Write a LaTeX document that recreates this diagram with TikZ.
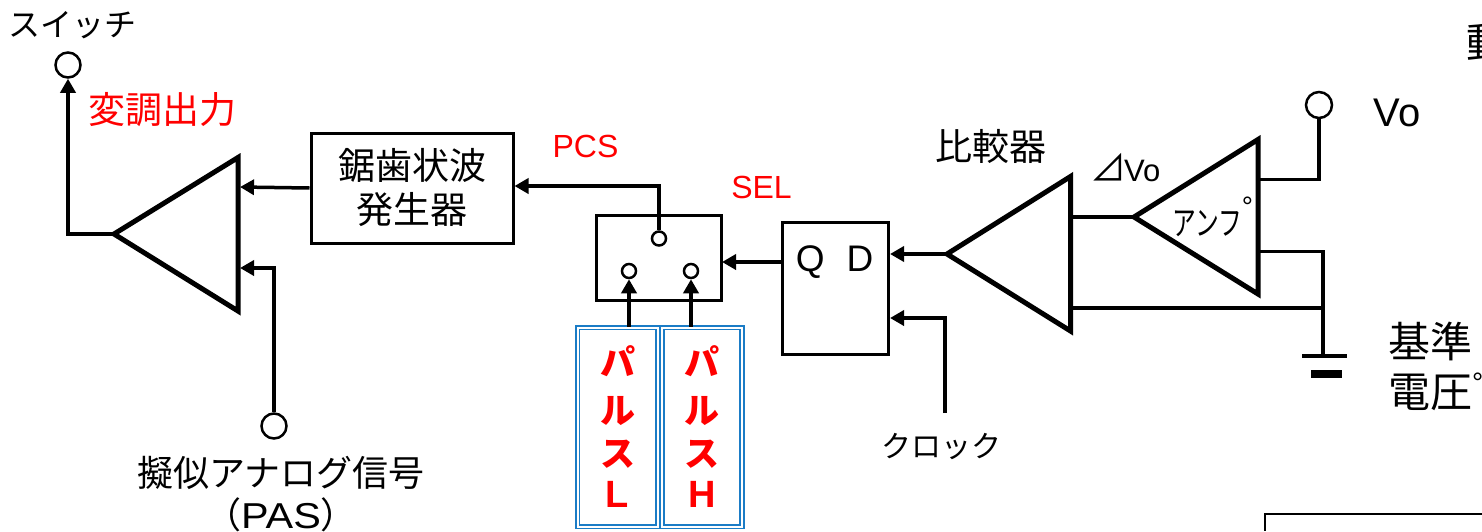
\documentclass[tikz,border=0pt]{standalone}
\usepackage{fontspec}
\setmainfont{Liberation Sans}
\newfontfamily\jpfont{Noto Sans CJK JP}
\newcommand{\fsize}[1]{\fontsize{#1}{#1}\selectfont}
\newcommand{\ringmark}[1]{\smash{\raisebox{#1}{\fsize{28}\rmfamily °}}}
\definecolor{pulseblue}{HTML}{1B7CC6}
\usetikzlibrary{arrows.meta}

\begin{document}
\begin{tikzpicture}[x=1pt, y=-1pt, >={Triangle[length=14pt,width=15pt]},
    box/.style={draw, line width=3pt, minimum width=#1, inner sep=0pt},
    term/.style={draw, circle, line width=2.5pt, minimum size=#1, inner sep=0pt, fill=white},
    amp/.style={draw, line width=5pt, line join=miter},
    wire/.style={line width=3.5pt},
    sig/.style={wire, ->},
    pulse/.style={draw=pulseblue, double=white, double distance=2pt, line width=1.6pt,
                  minimum width=80pt, minimum height=199pt, inner sep=0pt, align=center,
                  text=red, font=\fsize{35}\bfseries\jpfont},
    lab/.style={inner sep=0pt, align=center, font=\fsize{#1}\jpfont},
    redlab/.style={inner sep=0pt, text=red, font=\fsize{32}}]
  \useasboundingbox (0,0) rectangle (1482,531);

  % triangles
  \coordinate (OutTip)  at (114,234);
  \coordinate (CmpTip)  at (947,254);
  \coordinate (AmpTip)  at (1134,217);
  \draw[amp] (OutTip) -- (238,157.5) -- (238,311) -- cycle;
  \draw[amp] (CmpTip) -- (1070.5,176.5) -- (1070.5,331) -- cycle;
  \draw[amp] (AmpTip) -- (1258,139.5) -- (1258,294) -- cycle;

  % blocks
  \node[box=202pt, minimum height=110pt, lab=37] (SawGen) at (412,188) {鋸歯状波\\[7pt]発生器};
  \node[box=125pt, minimum height=85pt] (SwBox) at (658.5,257.5) {};
  \node[box=106pt, minimum height=132pt] (FF) at (835,288) {};
  \node[inner sep=0pt, font=\fsize{37}] (QD) at (834.5,262) {Q\hspace{22pt}D};
  \node[pulse] (PulseL) at (617.5,427) {パ\\[13pt]ル\\[8pt]ス\\[6pt]{\fsize{38}\rmfamily L}};
  \node[pulse] (PulseH) at (702,427) {パ\\[13pt]ル\\[8pt]ス\\[6pt]{\fsize{38}\rmfamily H}};

  % terminals
  \node[term=25pt] (OutTerm) at (68,65)   {};
  \node[term=25pt] (PasTerm) at (274,426) {};
  \node[term=26pt] (VoTerm)  at (1319,105) {};
  \node[term=14pt] (SwCom)   at (659,238.5) {};
  \node[term=14pt] (SwLow)   at (629,271) {};
  \node[term=14pt] (SwHigh)  at (691,271) {};

  % free ends
  \coordinate (OutCorner) at (68,234);
  \coordinate (SawIn)   at (240,187);
  \coordinate (PasIn)   at (240,268);
  \coordinate (PasTurn) at (274,268);
  \coordinate (PcsTurn) at (659,186);
  \coordinate (SelIn)   at (722,262);
  \coordinate (SelOut)  at (782,262);
  \coordinate (DIn)     at (890,254);
  \coordinate (ClkIn)   at (890,318);
  \coordinate (ClkTurn) at (945,318);
  \coordinate (ClkEnd)  at (945,413);
  \coordinate (CmpOut)  at (1071,217);
  \coordinate (AmpOutA) at (1258,179.5);
  \coordinate (AmpOutB) at (1258,251.5);
  \coordinate (VoTurn)  at (1319,179.5);
  \coordinate (GndTurn) at (1323,251.5);
  \coordinate (FbStart) at (1071,308);
  \coordinate (FbJoin)  at (1323,308);
  \coordinate (GndTop)  at (1323,356);

  % wires
  \draw[sig] (OutTip) -- (OutCorner) -- (OutTerm);
  \draw[sig] (SawGen.west) -- (SawIn);
  \draw[sig] (PasTerm) -- (PasTurn) -- (PasIn);
  \draw[sig] (SwCom) -- (PcsTurn) -- (SawGen.east |- PcsTurn);
  \draw[sig] (PulseL.north -| SwLow) -- (SwLow);
  \draw[sig] (PulseH.north -| SwHigh) -- (SwHigh);
  \draw[sig] (SelOut) -- (SelIn);
  \draw[sig] (CmpTip) -- (DIn);
  \draw[sig] (ClkEnd) -- (ClkTurn) -- (ClkIn);
  \draw[wire] (CmpOut) -- (AmpTip);
  \draw[wire] (AmpOutA) -- (VoTurn) -- (VoTerm);
  \draw[wire] (AmpOutB) -- (GndTurn) -- (GndTop);
  \draw[wire] (FbStart) -- (FbJoin);

  % ground
  \coordinate (GndA) at (1302,356);
  \coordinate (GndB) at (1347,356);
  \coordinate (BarA) at (1311,374);
  \coordinate (BarB) at (1342,374);
  \draw[line width=4pt] (GndA) -- (GndB);
  \draw[line width=7.5pt] (BarA) -- (BarB);

  % cut off box, right bottom
  \draw[line width=2pt] (1482,514) -- (1265,514) -- (1265,531);

  % labels
  \node[lab=32] (OutLab)  at (73,25)    {スイッチ};
  \node[lab=37, text=red] (ModLab) at (162,110) {変調出力};
  \node[lab=36] (PasLab)  at (281,494)  {擬似アナログ信号\\[6pt]（{\rmfamily\scalebox{1.15}[1]{PAS}}）};
  \node[redlab] (PcsLab)  at (585.5,146) {PCS};
  \node[redlab] (SelLab)  at (761.5,187) {SEL};
  \node[lab=37] (CmpLab)  at (991,146)  {比較器};
  \node[lab=30] (ClkLab)  at (941,447)  {クロック};
  \node[lab=31, anchor=base west] (DltLab) at (1090,181) {{\fsize{36}⊿}\hspace{-2pt}{\rmfamily Vo}};
  \node[lab=34, anchor=base west] (AmpLab) at (1172,235) {\scalebox{.7}[1]{アンフ}\ringmark{19pt}};
  \node[inner sep=0pt, font=\fsize{40}] (VoLab) at (1397,113) {Vo};
  \node[lab=42, anchor=north west, align=left] (RefLab) at (1388,322) {基準\\[8pt]電圧\ringmark{15pt}};
  \node[lab=42, anchor=west] (TopLab) at (1466,43) {動};
\end{tikzpicture}
\end{document}
